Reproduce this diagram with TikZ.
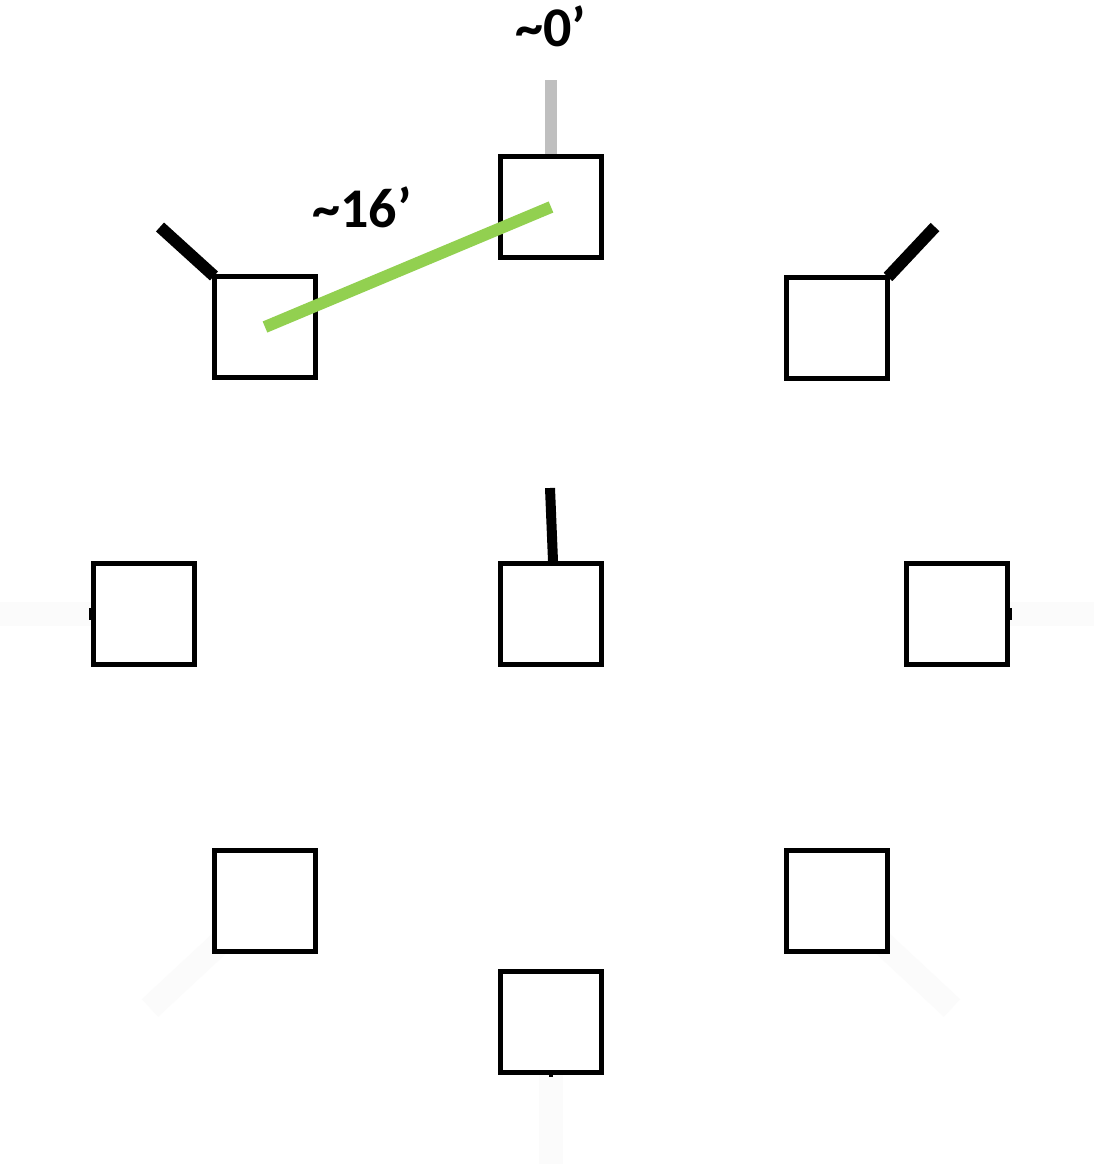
\documentclass[tikz,border=0pt]{standalone}
\usepackage{fontspec}
\setmainfont{Carlito}
\usepackage{xcolor}
\usepackage{tikz}
\definecolor{tapegreen}{HTML}{92D050}
\definecolor{stickgray}{HTML}{BFBFBF}

\begin{document}
\begin{tikzpicture}[x=1pt,y=-1pt,
  post/.style={draw=black,line width=5pt,minimum size=101pt,inner sep=0pt,fill=white},
  stick/.style={line width=12pt,color=black},
  ghost/.style={line width=24pt,color=black!1.5},
  tape/.style={line width=12pt,color=tapegreen},
  lbl/.style={font=\bfseries\fontsize{56}{62}\selectfont}]
\useasboundingbox[fill=white] (0,0) rectangle (1094,1164);
% Drawing faint sticks
\coordinate (mlend) at (0,614);
\coordinate (mrend) at (1094,614);
\coordinate (llend) at (150,1008);
\coordinate (lrend) at (952,1008);
\coordinate (boend) at (551,1164);
\draw[ghost] (144,614) -- (mlend);
\draw[ghost] (957,614) -- (mrend);
\draw[ghost] (265,901) -- (llend);
\draw[ghost] (837,901) -- (lrend);
\draw[ghost] (551,1022) -- (boend);
% Drawing posts
\node[post] (top) at (551,207) {};
\node[post] (ul) at (265,327) {};
\node[post] (ur) at (837,328) {};
\node[post] (ml) at (144,614) {};
\node[post] (mid) at (551,614) {};
\node[post] (mr) at (957,614) {};
\node[post] (ll) at (265,901) {};
\node[post] (lr) at (837,901) {};
\node[post] (bo) at (551,1022) {};
% Drawing sticks
\coordinate (topend) at (551,80);
\coordinate (ulend) at (160,227);
\coordinate (urend) at (935,227);
\coordinate (midend) at (550,488);
\draw[stick,color=stickgray] (top.north) -- (topend);
\draw[stick] ([shift={(2,2)}]ul.north west) -- (ulend);
\draw[stick] ([shift={(-2,2)}]ur.north east) -- (urend);
\draw[stick,line width=10pt] ([xshift=2pt]mid.north) -- (midend);
% stubs where the faint sticks meet the posts
\draw[line width=12pt] (ml.west) -- ++(-2,0);
\draw[line width=12pt] (mr.east) -- ++(2,0);
\draw[line width=4pt] (bo.south) -- ++(0,2);
% Drawing tape and labels
\draw[tape] (ul.center) -- (top.center);
\node[lbl] (zero) at (551,26) {\textasciitilde0’};
\node[lbl] (dist) at (362,207) {\textasciitilde16’};
\end{tikzpicture}
\end{document}
